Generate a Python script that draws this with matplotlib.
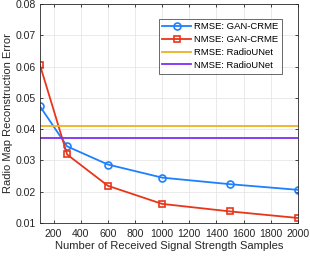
import matplotlib
matplotlib.use("Agg")
import matplotlib.pyplot as plt

# samples vs reconstruction error
samples = [100, 300, 600, 1000, 1500, 2000]
rmse_gan = [0.0473, 0.0345, 0.0287, 0.0245, 0.0224, 0.0206]
nmse_gan = [0.0605, 0.0319, 0.0219, 0.0161, 0.0137, 0.0116]
rmse_unet = 0.0410
nmse_unet = 0.0372

xticks = [200, 400, 600, 800, 1000, 1200, 1400, 1600, 1800, 2000]
yticks = [0.01, 0.02, 0.03, 0.04, 0.05, 0.06, 0.07, 0.08]

plt.rcParams['font.family'] = ['Liberation Sans', 'DejaVu Sans']

fig = plt.figure(figsize=(3.10, 2.56), dpi=100)
ax = fig.add_axes([0.129, 0.129, 0.832, 0.855])

ax.plot(samples, rmse_gan, color='#1E80FF', lw=1.3, marker='o', ms=5,
        mfc='none', mew=1.2, label='RMSE: GAN-CRME')
ax.plot(samples, nmse_gan, color='#E8361A', lw=1.3, marker='s', ms=4.5,
        mfc='none', mew=1.2, label='NMSE: GAN-CRME')
ax.axhline(rmse_unet, color='#EDB120', lw=1.3, label='RMSE: RadioUNet')
ax.axhline(nmse_unet, color='#7B2FF5', lw=1.3, label='NMSE: RadioUNet')

ax.set_xlim(100, 2000)
ax.set_ylim(0.01, 0.08)
ax.set_xticks(xticks)
ax.set_yticks(yticks)
ax.set_yticklabels([f"{v:.2f}" for v in yticks])
ax.grid(True, color='#e6e6e6', lw=0.6)
ax.set_axisbelow(True)
ax.tick_params(direction='in', length=2.5, width=0.6, labelsize=7.6,
               top=True, right=True, colors='#262626')
ax.tick_params(axis='x', pad=4)
ax.tick_params(axis='y', pad=3)
for s in ax.spines.values():
    s.set_color('#262626')
    s.set_linewidth(0.6)

ax.set_xlabel('Number of Received Signal Strength Samples', fontsize=8,
              color='#262626', labelpad=2)
ax.set_ylabel('Radio Map Reconstruction Error', fontsize=8,
              color='#262626', labelpad=1.5)

leg = ax.legend(loc='upper right', fontsize=6.8, frameon=True, fancybox=False,
                edgecolor='#262626', borderpad=0.4, labelspacing=0.4,
                handlelength=3.0, handletextpad=0.3,
                bbox_to_anchor=(0.955, 0.955))
leg.get_frame().set_linewidth(0.6)

fig.savefig('out.png', dpi=100)
